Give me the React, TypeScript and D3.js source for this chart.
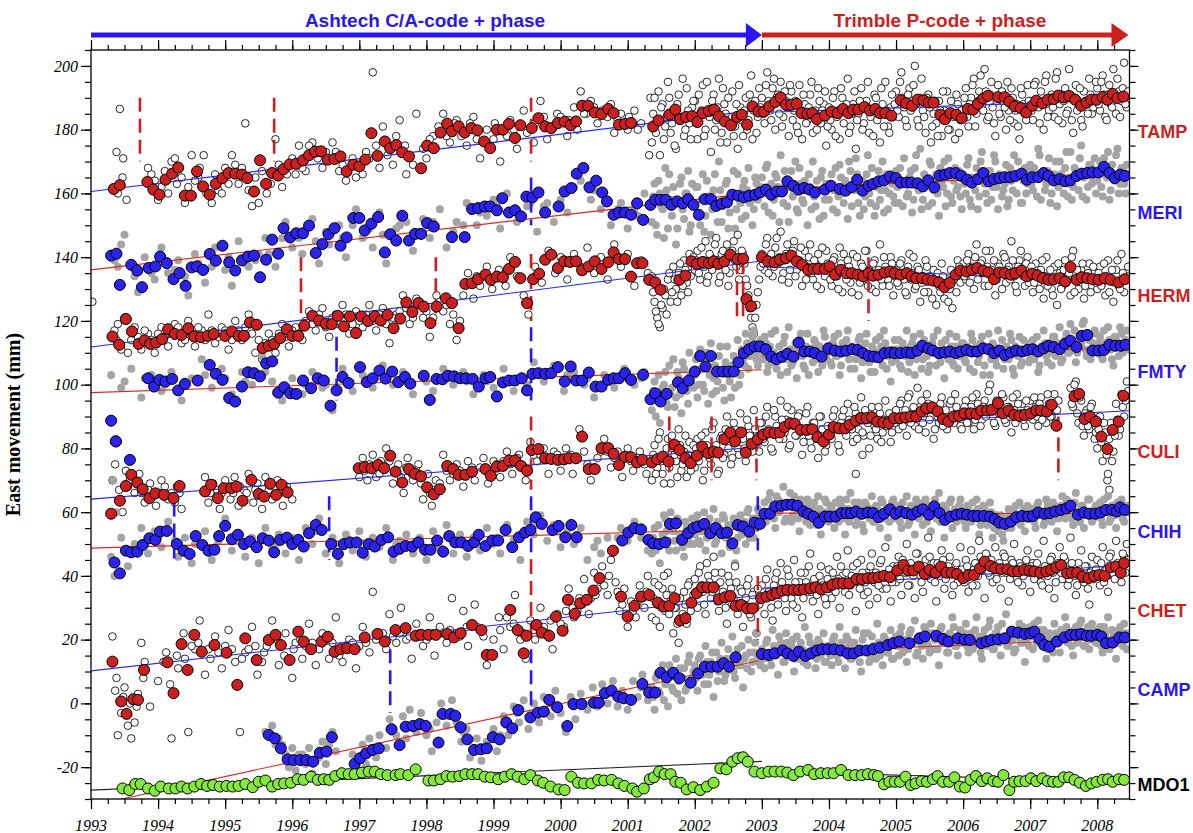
import React, { useEffect, useRef } from 'react';
import * as d3 from 'd3';

type Pt = [number, number];

// axis labels
const years = [1993, 1994, 1995, 1996, 1997, 1998, 1999, 2000, 2001, 2002, 2003, 2004, 2005, 2006, 2007, 2008];
const valueTicks = [-20, 0, 20, 40, 60, 80, 100, 120, 140, 160, 180, 200];

// dense daily clouds: two interleaved sample sets, every denseStep years from denseStart (B shifted by half a step)
const denseStart = 2001.36;
const denseStep = 0.04;

// ---------------- TAMP ----------------
const tampAvg: Pt[] = [[1993.34,161.4],[1993.43,162.6],[1993.84,163.6],[1993.93,161.2],[1994.02,159.6],[1994.11,164.3],[1994.21,166.2],[1994.30,168.1],[1994.40,159.3],[1994.49,159.3],[1994.58,166.9],[1994.67,162.2],[1994.77,159.6],[1994.86,163.0],[1994.96,164.8],[1995.05,166.4],[1995.15,166.2],[1995.25,165.9],[1995.33,164.8],[1995.43,160.6],[1995.52,170.4],[1995.61,163.0],[1995.70,166.4],[1995.79,165.6],[1995.87,167.6],[1995.96,169.1],[1996.06,169.3],[1996.16,170.4],[1996.25,172.0],[1996.34,173.1],[1996.43,173.2],[1996.53,170.6],[1996.63,170.8],[1996.72,171.6],[1996.81,166.9],[1996.91,169.0],[1997.00,168.5],[1997.09,170.6],[1997.18,178.9],[1997.27,171.8],[1997.38,176.3],[1997.46,174.2],[1997.55,175.2],[1997.64,172.9],[1997.74,171.6],[1997.92,167.9],[1998.01,175.0],[1998.11,174.2],[1998.21,179.1],[1998.31,181.9],[1998.38,179.5],[1998.48,181.0],[1998.57,179.1],[1998.67,180.5],[1998.76,179.8],[1998.86,176.3],[1998.95,174.2],[1999.05,180.0],[1999.14,180.0],[1999.23,181.8],[1999.32,177.4],[1999.40,181.4],[1999.57,180.5],[1999.67,183.6],[1999.77,181.0],[1999.86,180.5],[1999.96,182.1],[2000.06,182.5],[2000.15,181.4],[2000.23,182.6],[2000.32,187.5],[2000.41,187.5],[2000.51,185.4],[2000.61,184.9],[2000.71,186.5],[2000.79,185.2],[2000.87,181.6],[2000.96,181.8],[2001.05,182.1],[2001.38,181.0],[2001.46,182.9],[2001.62,184.7],[2001.71,186.3],[2001.78,183.3],[2001.87,184.0],[2001.96,184.2],[2002.04,182.4],[2002.12,185.2],[2002.21,185.9],[2002.29,186.3],[2002.36,184.2],[2002.45,182.6],[2002.54,181.4],[2002.63,184.0],[2002.70,184.7],[2002.78,181.6],[2002.86,187.3],[2002.95,185.7],[2003.03,185.7],[2003.11,187.3],[2003.20,188.7],[2003.28,190.1],[2003.36,187.8],[2003.44,187.8],[2003.52,188.1],[2003.59,185.2],[2003.68,185.0],[2003.75,185.2],[2003.82,183.3],[2003.94,184.4],[2004.04,185.7],[2004.13,185.2],[2004.21,186.5],[2004.29,185.2],[2004.36,186.3],[2004.44,186.3],[2004.53,187.1],[2004.61,186.0],[2004.69,186.5],[2004.76,185.2],[2004.84,185.2],[2004.93,184.4],[2005.07,189.2],[2005.15,188.3],[2005.24,187.5],[2005.32,189.4],[2005.41,189.2],[2005.49,188.5],[2005.56,188.5],[2005.66,184.7],[2005.73,183.3],[2005.81,185.2],[2005.90,184.7],[2005.98,183.6],[2006.07,186.5],[2006.15,186.3],[2006.22,188.1],[2006.30,189.8],[2006.37,190.6],[2006.52,190.2],[2006.62,190.2],[2006.69,188.8],[2006.77,187.3],[2006.86,186.8],[2006.94,185.4],[2007.03,187.5],[2007.09,189.1],[2007.18,188.3],[2007.26,189.4],[2007.35,189.6],[2007.42,190.7],[2007.50,190.1],[2007.58,190.6],[2007.67,189.4],[2007.76,187.5],[2007.84,188.5],[2007.91,189.4],[2007.99,189.4],[2008.08,190.2],[2008.15,189.4],[2008.23,191.2],[2008.30,189.9],[2008.39,190.4]];
const tampSparse: Pt[] = [[1993.38,173],[1993.43,186.5],[1993.48,171],[1993.53,158],[1993.9,166],[1994.0,158],[1994.1,167],[1994.2,170],[1994.28,163],[1994.4,157],[1994.5,172],[1994.6,165],[1994.68,172],[1994.8,157],[1994.9,161],[1995.0,168],[1995.1,172],[1995.2,163],[1995.3,182],[1995.4,156],[1995.5,157],[1995.62,160],[1995.75,177],[1995.85,162],[1996.0,171],[1996.1,175],[1996.2,167],[1996.3,176],[1996.45,168],[1996.6,176],[1996.7,167],[1996.8,164],[1996.95,165],[1997.1,173],[1997.2,198],[1997.3,168],[1997.35,181],[1997.5,169],[1997.6,183],[1997.7,166],[1997.85,185],[1998.0,171],[1998.1,178],[1998.25,185],[1998.35,176],[1998.45,183],[1998.6,175],[1998.7,184],[1998.8,171],[1999.0,177],[1999.1,170],[1999.25,183],[1999.35,174],[1999.45,186],[1999.6,176],[1999.7,189],[1999.8,177],[1999.95,185],[2000.1,178],[2000.2,187],[2000.3,192],[2000.38,185],[2000.45,189],[2000.55,182],[2000.7,184],[2000.8,179],[2000.9,185],[2001.0,180],[2001.1,186],[2001.2,182],[2001.32,172],[2001.34,190],
  [1993.4,160],[1993.47,165],[1993.85,168],[1993.95,164],[1994.05,162],[1994.15,160],[1994.25,171],[1994.35,165],[1994.45,162],[1994.55,164],[1994.62,168],[1994.72,160],[1994.85,166],[1994.95,160],[1995.05,163],[1995.15,169],[1995.25,168],[1995.35,161],[1995.45,165],[1995.55,167],[1995.68,163],[1995.8,169],[1995.92,166],[1996.05,166],[1996.15,168],[1996.25,175],[1996.38,171],[1996.5,173],[1996.65,173],[1996.75,169],[1996.9,171],[1997.05,166],[1997.15,171],[1997.25,175],[1997.42,172],[1997.55,178],[1997.68,175],[1997.8,169],[1997.95,174],[1998.05,177],[1998.18,181],[1998.3,178],[1998.42,182],[1998.52,178],[1998.65,182],[1998.75,177],[1998.9,180],[1999.02,182],[1999.2,178],[1999.3,180],[1999.5,179],[1999.62,182],[1999.75,184],[1999.9,181],[2000.0,184],[2000.12,183],[2000.25,180],[2000.35,185],[2000.5,187],[2000.62,186],[2000.75,188],[2000.85,183],[2001.02,184],[2001.15,180]];
const tampDense: (number | null)[] = [
  176, 190, 183, 172, 188, 181, 195, 179, 186, 174, 191, 184, 178, 193, 182, 187,
  189, 177, 185, 194, 180, 186, 173, 191, 183, 196, 179, 188, 176, 184, 192, 181, 174, 187, 178, 190, 183, 197, 186, 179, 193,
  190, 182, 198, 186, 193, 180, 191, 195, 184, 189, 178, 192, 186, 181, 194, 177, 188, 183, 191, 179, 186, 193, 182, 188, 175,
  187, 180, 192, 184, 177, 190, 186, 196, 181, 188, 174, 185, 193, 182, 189, 179, 186, 191, 183, 176, 188, 195, 181, 187, 184,
  192, 184, 198, 187, 181, 193, 189, 200, 183, 190, 186, 179, 191, 176, 185, 182, 189, 178, 186, 192, 180, 185, 177, 188, 183,
  186, 193, 181, 190, 196, 185, 192, 188, 199, 183, 191, 187, 178, 194, 184, 189, 180, 186, 193, 182, 188, 177, 191, 185, 194,
  189, 183, 195, 187, 192, 180, 197, 186, 191, 184, 198, 188, 182, 193, 186, 190, 179, 194, 187, 183, 192, 188, 196, 185, 190,
  193, 186, 197, 184, 191, 188, 199, 185, 192, 189, 201, 187];
const tampDenseB: (number | null)[] = [
  185, 179, 192, 187, 177, 184, 190, 182, 175, 188, 183, 196, 180, 186, 177, 189,
  182, 191, 186, 178, 195, 184, 189, 180, 187, 176, 193, 185, 190, 182, 178, 188, 194, 183, 186, 180, 191, 177, 189, 184, 187,
  185, 194, 189, 183, 196, 190, 185, 181, 192, 187, 194, 183, 189, 179, 185, 191, 182, 187, 195, 184, 180, 189, 186, 192, 181,
  183, 190, 178, 186, 193, 182, 188, 179, 185, 192, 183, 189, 180, 187, 195, 184, 178, 190, 185, 193, 181, 186, 179, 191, 188,
  186, 195, 190, 183, 191, 186, 194, 188, 181, 196, 184, 190, 187, 181, 189, 178, 186, 192, 183, 180, 189, 184, 191, 179, 186,
  190, 184, 188, 194, 181, 189, 197, 186, 192, 184, 195, 182, 189, 185, 192, 187, 195, 183, 190, 186, 181, 193, 188, 183, 189,
  186, 194, 189, 182, 188, 195, 184, 190, 187, 196, 183, 191, 189, 185, 199, 183, 190, 186, 193, 181, 189, 185, 191, 187, 195,
  188, 195, 191, 183, 194, 187, 190, 196, 184, 193, 188, 192];
const tampTrend: Pt[][] = [[[1993, 160.6], [2003, 186.3]], [[2003, 185.4], [2008.48, 189.4]]];
const tampOffsets: [number, number, number][] = [[1993.73, 170, 190], [1995.73, 170, 190], [1999.56, 170, 190]];

// ---------------- MERI ----------------
const meriAvg: Pt[] = [[1993.30,140.5],[1993.38,141.1],[1993.43,131.3],[1993.60,137.6],[1993.69,135.8],[1993.76,130.6],[1993.86,136.6],[1993.96,137.1],[1994.03,140.2],[1994.13,138.1],[1994.23,133.1],[1994.32,135.0],[1994.41,131.0],[1994.50,136.8],[1994.58,137.1],[1994.67,136.0],[1994.77,141.0],[1994.86,138.9],[1994.96,143.6],[1995.06,138.4],[1995.15,135.8],[1995.25,139.0],[1995.34,140.2],[1995.43,140.5],[1995.52,133.7],[1995.61,139.2],[1995.70,145.5],[1995.79,141.1],[1995.87,149.1],[1995.97,146.2],[1996.06,147.5],[1996.16,147.5],[1996.25,149.9],[1996.35,141.3],[1996.45,144.1],[1996.54,147.2],[1996.63,149.1],[1996.72,143.6],[1996.81,146.2],[1996.91,152.3],[1997.00,152.3],[1997.08,148.4],[1997.18,150.5],[1997.28,152.6],[1997.38,141.5],[1997.46,147.2],[1997.55,145.2],[1997.64,153.0],[1997.74,145.2],[1997.83,147.3],[1997.92,147.3],[1998.01,150.7],[1998.11,149.6],[1998.38,146.3],[1998.57,146.3],[1998.68,155.1],[1998.77,155.4],[1998.87,155.9],[1998.95,155.9],[1999.05,154.7],[1999.13,158.5],[1999.23,154.0],[1999.32,154.7],[1999.41,152.8],[1999.49,159.0],[1999.58,158.8],[1999.67,160.3],[1999.77,154.0],[1999.97,155.9],[2000.06,160.6],[2000.16,161.7],[2000.24,166.2],[2000.34,168.0],[2000.43,161.9],[2000.53,164.0],[2000.62,160.3],[2000.69,157.5],[2000.79,153.3],[2000.87,154.0],[2000.96,154.0],[2001.05,153.3],[2001.14,156.9],[2001.23,151.7],[2001.34,156.4],[2001.41,158.0],[2001.49,158.0],[2001.57,158.0],[2001.65,156.4],[2001.74,157.5],[2001.82,156.9],[2001.90,158.2],[2001.98,156.4],[2002.06,153.3],[2002.15,158.2],[2002.24,158.2],[2002.32,156.1],[2002.40,156.8],[2002.48,157.2],[2002.56,159.6],[2002.65,159.3],[2002.73,158.8],[2002.81,159.3],[2002.90,159.6],[2002.97,160.3],[2003.06,161.2],[2003.14,159.6],[2003.22,160.6],[2003.30,160.6],[2003.38,163.8],[2003.47,162.4],[2003.55,161.2],[2003.63,161.7],[2003.71,161.2],[2003.79,160.3],[2003.94,161.2],[2004.03,162.4],[2004.16,161.4],[2004.25,160.9],[2004.34,162.0],[2004.42,164.3],[2004.50,160.9],[2004.59,162.4],[2004.66,163.0],[2004.74,163.8],[2004.82,164.1],[2004.91,165.3],[2005.00,164.8],[2005.07,163.4],[2005.16,163.4],[2005.23,163.4],[2005.32,163.2],[2005.40,162.2],[2005.48,164.1],[2005.57,161.9],[2005.65,165.6],[2005.73,165.9],[2005.80,166.4],[2005.89,166.4],[2005.97,165.5],[2006.06,164.3],[2006.13,163.4],[2006.22,164.5],[2006.30,166.4],[2006.38,163.8],[2006.46,164.5],[2006.54,164.8],[2006.62,165.1],[2006.70,165.1],[2006.78,165.5],[2006.87,166.2],[2006.95,164.3],[2007.03,165.1],[2007.12,165.1],[2007.20,166.4],[2007.27,165.5],[2007.35,164.1],[2007.44,164.5],[2007.52,163.8],[2007.60,164.1],[2007.69,165.5],[2007.77,166.2],[2007.85,166.4],[2007.93,166.6],[2008.02,166.6],[2008.10,168.3],[2008.18,166.4],[2008.26,164.8],[2008.34,165.9],[2008.41,165.5]];
const meriSparse: Pt[] = [[1993.35,139],[1993.45,144],[1993.5,147],[1993.7,129],[1993.8,140],[1993.95,133],[1994.05,143],[1994.15,135],[1994.3,139],[1994.45,128],[1994.55,141],[1994.7,132],[1994.85,143],[1995.0,136],[1995.1,131],[1995.2,145],[1995.35,137],[1995.5,141],[1995.6,146],[1995.75,137],[1995.9,151],[1996.0,143],[1996.15,141],[1996.3,152],[1996.4,138],[1996.55,144],[1996.7,150],[1996.8,140],[1996.95,155],[1997.05,146],[1997.2,143],[1997.3,154],[1997.4,138],[1997.55,149],[1997.7,151],[1997.8,142],[1997.95,152],[1998.05,146],[1998.2,155],[1998.3,143],[1998.45,151],[1998.6,157],[1998.75,150],[1998.9,153],[1999.0,158],[1999.1,149],[1999.2,160],[1999.35,151],[1999.5,156],[1999.65,148],[1999.8,157],[1999.9,151],[2000.0,158],[2000.1,154],[2000.3,164],[2000.45,158],[2000.6,155],[2000.75,150],[2000.9,157],[2001.0,149],[2001.15,153],[2001.25,160],
  [1993.4,137],[1993.65,134],[1993.9,135],[1994.1,139],[1994.25,136],[1994.4,134],[1994.6,138],[1994.8,137],[1995.05,140],[1995.3,138],[1995.45,139],[1995.65,141],[1995.85,146],[1996.1,146],[1996.35,145],[1996.5,148],[1996.75,146],[1996.9,150],[1997.15,149],[1997.35,147],[1997.6,150],[1997.9,148],[1998.1,151],[1998.4,148],[1998.55,150],[1998.8,154],[1999.05,156],[1999.3,155],[1999.55,157],[1999.75,156],[2000.2,162],[2000.5,161],[2000.85,155],[2001.1,155]];
const meriDense: (number | null)[] = [
  151, 163, 147, 160, 155, 168, 149, 158, 162, 144, 157, 165, 152, 160, 148, 163,
  156, 162, 150, 166, 153, 159, 147, 161, 157, 170, 151, 158, 164, 154, 160, 149, 166, 157, 162, 153, 168, 158, 155, 163, 160,
  165, 156, 169, 160, 153, 166, 162, 172, 157, 163, 151, 167, 160, 155, 168, 158, 164, 150, 162, 170, 156, 161, 165, 153, 163,
  158, 166, 161, 154, 169, 160, 164, 152, 167, 162, 171, 157, 163, 155, 166, 160, 168, 153, 162, 158, 170, 161, 155, 165, 159,
  167, 157, 163, 171, 159, 165, 154, 168, 162, 174, 158, 164, 156, 169, 161, 166, 153, 163, 170, 160, 165, 157, 168, 162, 159,
  166, 160, 171, 156, 164, 168, 159, 173, 163, 157, 167, 162, 170, 155, 165, 161, 169, 158, 164, 172, 160, 166, 157, 168, 163,
  169, 161, 165, 174, 158, 167, 163, 171, 160, 166, 156, 170, 164, 168, 159, 173, 162, 167, 161, 175, 165, 158, 169, 163, 171,
  164, 170, 159, 167, 173, 161, 166, 172, 160, 168, 163, 169];
const meriDenseB: (number | null)[] = [
  159, 150, 164, 156, 146, 161, 166, 153, 158, 149, 163, 155, 160, 167, 150, 157,
  162, 153, 158, 148, 164, 159, 155, 166, 151, 161, 156, 163, 149, 160, 167, 155, 159, 152, 164, 161, 157, 150, 165, 158, 162,
  160, 168, 154, 163, 158, 165, 151, 161, 167, 156, 162, 159, 170, 154, 163, 157, 161, 166, 155, 159, 164, 152, 167, 158, 162,
  163, 155, 168, 159, 165, 157, 162, 170, 156, 161, 166, 153, 164, 159, 172, 157, 163, 156, 167, 161, 154, 166, 160, 163, 157,
  162, 168, 156, 164, 160, 167, 158, 172, 161, 155, 166, 163, 170, 157, 164, 160, 168, 162, 156, 171, 159, 164, 161, 167, 155,
  163, 169, 158, 165, 161, 155, 170, 164, 160, 167, 158, 172, 162, 166, 159, 163, 156, 168, 161, 165, 170, 157, 164, 160, 167,
  163, 168, 159, 172, 165, 161, 167, 157, 164, 170, 162, 166, 160, 173, 163, 158, 168, 165, 171, 159, 166, 162, 169, 164, 160,
  167, 162, 171, 165, 158, 169, 164, 174, 163, 167, 160, 166];
const meriTrend: Pt[][] = [[[1993, 136.0], [2003, 160.5]], [[2003, 161.2], [2008.48, 166.7]]];
const meriOffsets: [number, number, number][] = [[1999.56, 150, 165]];

// ---------------- HERM ----------------
const hermAvg: Pt[] = [[1993.32,115.1],[1993.42,112.5],[1993.52,120.6],[1993.61,116.7],[1993.71,112.8],[1993.80,113.9],[1993.88,112.8],[1993.97,113.2],[1994.06,114.3],[1994.15,117.4],[1994.25,115.9],[1994.35,115.6],[1994.45,117.7],[1994.54,115.1],[1994.64,114.9],[1994.74,115.3],[1994.83,115.9],[1995.00,115.3],[1995.10,116.7],[1995.20,115.3],[1995.28,115.3],[1995.37,119.5],[1995.47,118.8],[1995.56,111.5],[1995.65,112.2],[1995.73,112.8],[1995.82,114.6],[1995.92,117.4],[1996.00,115.3],[1996.09,115.3],[1996.18,118.5],[1996.30,121.6],[1996.40,120.1],[1996.50,119.1],[1996.59,119.0],[1996.68,121.6],[1996.77,118.3],[1996.86,121.4],[1996.95,116.2],[1997.03,121.4],[1997.13,120.0],[1997.23,121.4],[1997.32,120.1],[1997.42,121.9],[1997.51,117.7],[1997.61,120.7],[1997.70,125.8],[1997.79,122.8],[1997.88,125.6],[1997.96,124.5],[1998.06,119.3],[1998.15,124.5],[1998.29,127.1],[1998.38,125.6],[1998.48,117.7],[1998.58,131.6],[1998.68,131.8],[1998.77,133.1],[1998.88,134.5],[1998.96,132.9],[1999.05,133.9],[1999.14,133.7],[1999.23,136.3],[1999.32,138.5],[1999.40,133.4],[1999.50,125.6],[1999.59,133.1],[1999.68,134.8],[1999.77,139.2],[1999.86,140.8],[1999.96,136.6],[2000.05,138.7],[2000.14,138.5],[2000.23,138.7],[2000.32,135.9],[2000.42,137.1],[2000.51,138.7],[2000.61,136.3],[2000.71,138.4],[2000.79,141.5],[2000.87,139.4],[2000.96,139.4],[2001.05,133.9],[2001.14,138.1],[2001.22,138.1],[2001.32,132.9],[2001.41,132.1],[2001.49,129.8],[2001.77,132.9],[2001.86,134.2],[2001.95,138.7],[2002.03,137.9],[2002.12,138.5],[2002.21,138.1],[2002.28,138.7],[2002.35,137.9],[2002.44,138.7],[2002.53,140.8],[2002.64,139.4],[2002.72,139.5],[2002.77,126.8],[2002.84,124.6],[2003.00,140.0],[2003.09,138.7],[2003.19,138.4],[2003.27,139.2],[2003.36,139.7],[2003.44,140.5],[2003.52,138.7],[2003.60,137.6],[2003.69,136.0],[2003.77,136.3],[2003.84,136.3],[2003.94,136.3],[2004.01,137.1],[2004.09,134.5],[2004.18,136.0],[2004.26,135.0],[2004.34,135.0],[2004.43,134.5],[2004.51,134.0],[2004.59,135.0],[2004.66,134.2],[2004.74,134.5],[2004.83,135.2],[2004.91,135.5],[2004.98,135.0],[2005.07,134.5],[2005.16,135.0],[2005.23,134.0],[2005.30,133.4],[2005.39,133.4],[2005.47,132.9],[2005.55,132.7],[2005.64,132.1],[2005.72,130.6],[2005.80,131.9],[2005.89,134.5],[2005.96,135.8],[2006.05,135.5],[2006.13,136.0],[2006.21,136.6],[2006.30,135.8],[2006.38,135.2],[2006.46,133.1],[2006.54,135.2],[2006.62,135.0],[2006.71,134.5],[2006.78,135.0],[2006.87,135.8],[2006.95,134.0],[2007.03,134.8],[2007.11,134.2],[2007.19,133.4],[2007.27,132.9],[2007.35,133.1],[2007.44,133.4],[2007.52,132.4],[2007.60,136.9],[2007.69,132.9],[2007.77,133.7],[2007.85,133.4],[2007.93,133.1],[2008.02,132.9],[2008.11,133.4],[2008.20,132.9],[2008.32,132.1],[2008.41,133.1]];
const hermSparse: Pt[] = [[1993.02,126],[1993.35,117],[1993.4,119],[1993.5,121],[1993.55,110],[1993.65,118],[1993.75,111],[1993.85,116],[1993.95,110],[1994.05,118],[1994.15,112],[1994.25,119],[1994.35,113],[1994.45,120],[1994.55,112],[1994.65,117],[1994.75,122],[1994.85,113],[1994.95,118],[1995.05,111],[1995.15,120],[1995.25,114],[1995.35,122],[1995.45,110],[1995.55,108],[1995.65,116],[1995.75,110],[1995.85,119],[1995.95,112],[1996.05,118],[1996.15,114],[1996.25,123],[1996.35,117],[1996.45,124],[1996.55,115],[1996.65,122],[1996.75,125],[1996.85,116],[1996.95,123],[1997.05,118],[1997.15,125],[1997.25,117],[1997.35,124],[1997.45,113],[1997.55,122],[1997.65,128],[1997.75,119],[1997.85,127],[1997.95,121],[1998.05,115],[1998.15,128],[1998.25,123],[1998.35,119],[1998.45,114],[1998.55,128],[1998.62,135],[1998.7,127],[1998.8,131],[1998.9,137],[1998.98,130],[1999.08,136],[1999.18,131],[1999.25,140],[1999.35,134],[1999.45,128],[1999.52,122],[1999.62,137],[1999.72,132],[1999.82,142],[1999.92,135],[2000.0,140],[2000.1,133],[2000.2,141],[2000.3,137],[2000.4,143],[2000.5,135],[2000.6,140],[2000.7,133],[2000.8,144],[2000.9,137],[2001.0,141],[2001.1,131],[2001.2,139],[2001.3,135],
  [1993.38,114],[1993.45,111],[1993.6,114],[1993.7,115],[1993.8,117],[1993.9,114],[1994.0,116],[1994.1,115],[1994.2,116],[1994.3,118],[1994.4,114],[1994.5,116],[1994.6,118],[1994.7,114],[1994.8,117],[1994.9,115],[1995.0,117],[1995.1,114],[1995.2,117],[1995.3,118],[1995.4,116],[1995.5,114],[1995.6,113],[1995.7,114],[1995.8,116],[1995.9,115],[1996.0,117],[1996.1,116],[1996.2,120],[1996.3,119],[1996.4,122],[1996.5,118],[1996.6,121],[1996.7,119],[1996.8,122],[1996.9,119],[1997.0,120],[1997.1,122],[1997.2,120],[1997.3,122],[1997.4,119],[1997.5,121],[1997.6,123],[1997.7,124],[1997.8,121],[1997.9,126],[1998.0,123],[1998.1,121],[1998.2,126],[1998.3,125],[1998.4,122],[1998.5,120],[1998.6,132],[1998.75,134]];
const hermDense: (number | null)[] = [
  134, 126, 121, 118, 124, 128, 133, 126, 137, 130, 135, 128, 139, 132, 141, 135,
  136, 142, 133, 139, 145, 134, 140, 137, 146, 132, 141, 138, 144, 135, 142, 139, 147, 136, 141, 133, 128, 121, 116, 125, 133,
  141, 136, 146, 139, 134, 143, 138, 148, 135, 141, 132, 140, 145, 136, 139, 131, 142, 137, 144, 133, 138, 141, 130, 136, 142,
  137, 131, 140, 134, 143, 129, 136, 139, 132, 141, 135, 128, 138, 133, 142, 136, 130, 139, 134, 144, 131, 137, 133, 140, 128,
  136, 131, 139, 133, 128, 141, 135, 130, 137, 126, 134, 139, 129, 133, 136, 125, 131, 138, 127, 133, 130, 124, 135, 139, 132,
  138, 133, 141, 136, 130, 144, 135, 139, 131, 137, 142, 134, 128, 138, 135, 141, 132, 137, 145, 134, 129, 139, 136, 131, 140,
  134, 129, 138, 132, 136, 127, 140, 133, 130, 137, 125, 135, 131, 139, 134, 128, 142, 133, 130, 136, 127, 134, 138, 131, 135,
  130, 137, 132, 128, 139, 133, 126, 136, 131, 141, 129, 134];
const hermDenseB: (number | null)[] = [
  129, 123, 119, 125, 130, 122, 135, 129, 133, 126, 138, 131, 136, 129, 134, 140,
  139, 135, 143, 137, 132, 141, 136, 144, 139, 134, 142, 136, 131, 140, 145, 137, 133, 142, 138, 131, 124, 118, 121, 129, 137,
  138, 144, 135, 141, 137, 146, 140, 133, 139, 144, 136, 142, 134, 138, 143, 137, 133, 140, 135, 139, 131, 137, 143, 134, 138,
  133, 139, 136, 130, 138, 141, 133, 137, 129, 135, 140, 132, 137, 142, 131, 135, 138, 129, 136, 133, 140, 135, 131, 138, 134,
  132, 138, 135, 129, 137, 133, 140, 131, 136, 132, 129, 137, 134, 127, 132, 135, 129, 134, 131, 126, 136, 133, 129, 137, 135,
  134, 139, 132, 137, 140, 133, 138, 135, 142, 131, 136, 139, 133, 137, 130, 140, 136, 133, 139, 131, 137, 142, 134, 138, 132,
  137, 132, 135, 130, 139, 134, 131, 136, 128, 133, 138, 130, 136, 132, 135, 140, 129, 136, 133, 138, 131, 135, 129, 137, 132,
  135, 131, 138, 134, 129, 136, 132, 139, 130, 135, 133, 137];
const hermTrend: Pt[][] = [[[1993, 111.8], [2003, 138.8]], [[2003, 137.0], [2008.48, 132.4]]];
const hermOffsets: [number, number, number][] = [[1996.13, 120, 140], [1998.14, 120, 140], [1999.56, 120, 141], [2002.63, 120, 139], [2002.72, 120, 139], [2004.59, 120, 140]];

// ---------------- FMTY ----------------
const fmtyAvg: Pt[] = [[1993.85,102.0],[1993.94,99.4],[1994.02,101.5],[1994.11,101.0],[1994.21,101.8],[1994.30,98.2],[1994.40,100.2],[1994.59,101.3],[1994.77,106.2],[1994.86,103.4],[1994.96,101.5],[1995.06,95.8],[1995.15,94.7],[1995.25,99.4],[1995.34,103.9],[1995.43,103.6],[1995.52,102.6],[1995.61,106.7],[1995.70,107.3],[1995.79,97.5],[1995.88,99.2],[1995.97,97.3],[1996.06,97.1],[1996.16,101.3],[1996.28,98.9],[1996.38,102.0],[1996.47,101.3],[1996.57,93.4],[1996.66,98.2],[1996.75,102.4],[1996.84,100.5],[1997.01,105.5],[1997.11,100.8],[1997.20,102.0],[1997.30,104.4],[1997.39,101.9],[1997.49,104.1],[1997.58,100.8],[1997.68,102.4],[1997.76,100.3],[1997.96,102.8],[1998.05,95.2],[1998.15,101.8],[1998.24,101.7],[1998.32,102.8],[1998.41,102.6],[1998.50,102.0],[1998.59,102.0],[1998.69,101.8],[1998.78,99.4],[1998.88,102.0],[1998.95,102.4],[1999.05,96.3],[1999.14,100.7],[1999.23,101.3],[1999.32,101.3],[1999.42,102.0],[1999.50,98.2],[1999.58,103.4],[1999.67,103.6],[1999.77,103.4],[1999.86,103.6],[1999.96,105.5],[2000.06,101.0],[2000.15,105.7],[2000.23,101.3],[2000.32,101.3],[2000.42,103.8],[2000.52,99.4],[2000.61,99.4],[2000.71,101.5],[2000.79,102.0],[2000.87,102.0],[2000.96,103.6],[2001.05,101.5],[2001.23,103.1],[2001.34,95.4],[2001.41,97.3],[2001.49,94.7],[2001.58,97.1],[2001.75,100.7],[2001.82,98.9],[2001.91,101.3],[2002.00,104.1],[2002.08,109.0],[2002.16,105.7],[2002.24,109.0],[2002.33,104.1],[2002.42,104.1],[2002.50,104.1],[2002.58,104.1],[2002.65,107.0],[2002.73,109.9],[2002.81,111.1],[2002.89,112.0],[2002.97,112.0],[2003.06,111.1],[2003.14,108.8],[2003.22,108.0],[2003.30,108.8],[2003.38,109.7],[2003.47,108.8],[2003.55,113.2],[2003.63,110.4],[2003.72,110.4],[2003.79,109.9],[2003.89,108.8],[2003.99,111.4],[2004.09,110.7],[2004.18,110.4],[2004.26,110.7],[2004.35,111.1],[2004.43,110.9],[2004.51,109.9],[2004.59,109.0],[2004.67,108.8],[2004.74,108.6],[2004.83,109.9],[2004.91,110.1],[2004.98,109.9],[2005.07,109.9],[2005.16,110.1],[2005.23,109.9],[2005.32,110.7],[2005.39,112.2],[2005.48,111.4],[2005.55,110.7],[2005.64,109.9],[2005.72,110.1],[2005.80,110.4],[2005.89,109.9],[2005.96,110.4],[2006.05,110.9],[2006.13,110.4],[2006.21,110.4],[2006.30,111.4],[2006.38,111.1],[2006.46,109.9],[2006.54,110.7],[2006.62,109.3],[2006.71,110.1],[2006.79,110.7],[2006.88,110.4],[2006.96,110.9],[2007.04,111.1],[2007.12,110.4],[2007.20,111.4],[2007.27,112.2],[2007.35,111.8],[2007.44,111.1],[2007.52,112.8],[2007.60,113.8],[2007.69,111.8],[2007.77,115.3],[2007.85,115.6],[2007.93,110.7],[2008.02,110.7],[2008.10,110.9],[2008.18,112.5],[2008.27,112.2],[2008.35,112.2],[2008.42,112.5]];
const fmtySparse: Pt[] = [[1993.3,103],[1993.45,99],[1993.6,105],[1993.75,96],[1993.9,103],[1994.05,98],[1994.2,104],[1994.35,95],[1994.5,102],[1994.65,108],[1994.8,99],[1994.95,105],[1995.1,97],[1995.25,104],[1995.4,100],[1995.55,109],[1995.7,101],[1995.85,95],[1996.0,102],[1996.15,97],[1996.3,104],[1996.45,99],[1996.6,92],[1996.75,105],[1996.9,98],[1997.05,103],[1997.2,99],[1997.35,106],[1997.5,100],[1997.65,104],[1997.8,97],[1997.95,103],[1998.1,98],[1998.25,105],[1998.4,100],[1998.55,104],[1998.7,97],[1998.85,103],[1999.0,99],[1999.15,105],[1999.3,98],[1999.45,102],[1999.6,107],[1999.75,101],[1999.9,106],[2000.05,98],[2000.2,104],[2000.35,100],[2000.5,96],[2000.65,103],[2000.8,99],[2000.95,105],[2001.1,100],[2001.25,104],
  [1993.5,101],[1993.8,102],[1994.1,100],[1994.4,101],[1994.7,103],[1995.0,102],[1995.3,101],[1995.6,104],[1995.9,99],[1996.2,100],[1996.5,100],[1996.8,101],[1997.1,102],[1997.4,102],[1997.7,101],[1998.0,101],[1998.3,102],[1998.6,101],[1998.9,101],[1999.2,101],[1999.5,100],[1999.8,103],[2000.1,103],[2000.4,102],[2000.7,101],[2001.0,102],[2001.2,102]];
const fmtyDense: (number | null)[] = [
  92, 101, 95, 88, 99, 104, 93, 97, 108, 96, 102, 91, 105, 98, 110, 100,
  103, 96, 111, 100, 107, 94, 113, 102, 98, 109, 104, 95, 112, 101, 106, 99, 114, 103, 108, 116, 105, 111, 117, 108, 113,
  110, 115, 104, 112, 107, 117, 109, 103, 113, 108, 118, 106, 111, 102, 114, 109, 105, 116, 110, 107, 113, 104, 111, 117, 108,
  112, 106, 115, 109, 103, 113, 110, 117, 105, 111, 108, 114, 102, 109, 116, 107, 112, 104, 110, 115, 106, 113, 109, 101, 111,
  108, 114, 105, 111, 117, 107, 113, 103, 110, 116, 108, 112, 104, 111, 115, 106, 109, 113, 102, 110, 116, 107, 112, 105, 111,
  113, 107, 110, 116, 104, 112, 109, 115, 106, 111, 103, 113, 108, 117, 110, 105, 112, 108, 114, 103, 111, 115, 107, 110, 113,
  108, 114, 110, 104, 112, 117, 109, 113, 106, 115, 111, 118, 108, 114, 110, 119, 112, 107, 116, 113, 120, 109, 114, 111, 117,
  110, 115, 108, 113, 118, 111, 106, 114, 109, 116, 112, 117];
const fmtyDenseB: (number | null)[] = [
  98, 90, 103, 96, 100, 94, 106, 99, 93, 104, 97, 107, 101, 94, 103, 99,
  108, 100, 105, 98, 110, 103, 97, 106, 101, 112, 99, 107, 103, 96, 109, 104, 100, 111, 106, 113, 109, 115, 110, 106, 114,
  108, 113, 106, 116, 110, 105, 112, 108, 115, 104, 111, 107, 113, 109, 116, 106, 112, 103, 110, 114, 108, 112, 106, 115, 110,
  107, 113, 109, 116, 106, 111, 114, 108, 112, 105, 110, 115, 107, 113, 109, 104, 111, 114, 108, 112, 117, 105, 110, 107, 114,
  111, 106, 113, 109, 104, 112, 115, 108, 111, 105, 114, 109, 106, 113, 110, 117, 107, 111, 114, 108, 112, 106, 115, 109, 113,
  108, 112, 105, 114, 110, 107, 113, 103, 111, 116, 108, 112, 106, 111, 114, 108, 110, 116, 105, 112, 109, 106, 114, 111, 107,
  112, 108, 115, 106, 111, 113, 107, 110, 115, 109, 113, 107, 112, 116, 110, 113, 117, 110, 114, 119, 111, 115, 108, 113, 116,
  113, 109, 117, 111, 114, 108, 115, 112, 118, 110, 114, 111];
const fmtyTrend: Pt[][] = [[[1993, 97.5], [2003, 104.7]], [[2003, 109.0], [2008.48, 111.5]]];
const fmtyOffsets: [number, number, number][] = [[1996.66, 95, 115], [1999.56, 95, 118]];

// ---------------- CULI ----------------
const culiAvg: Pt[] = [[1993.30,59.5],[1993.37,82.2],[1993.43,63.6],[1993.52,68.2],[1993.60,71.7],[1993.69,69.3],[1993.77,67.2],[1993.87,64.4],[1993.96,65.9],[1994.09,65.4],[1994.23,64.4],[1994.32,68.2],[1994.70,66.5],[1994.79,68.6],[1994.89,64.4],[1994.98,67.5],[1995.09,67.5],[1995.17,68.0],[1995.26,63.6],[1995.39,70.1],[1995.50,65.7],[1995.58,64.9],[1995.67,68.9],[1995.76,65.4],[1995.84,68.6],[1995.93,66.2],[1996.99,73.8],[1997.08,74.1],[1997.18,73.8],[1997.28,74.8],[1997.37,73.8],[1997.46,77.7],[1997.54,72.7],[1997.64,69.3],[1997.74,73.5],[1997.83,72.0],[1997.92,71.2],[1998.01,67.8],[1998.11,65.6],[1998.20,67.2],[1998.31,74.5],[1998.40,73.5],[1998.48,71.7],[1998.58,71.7],[1998.68,72.7],[1998.88,73.5],[1998.96,71.4],[1999.05,74.3],[1999.14,74.5],[1999.23,76.2],[1999.32,76.2],[1999.41,74.5],[1999.50,73.0],[1999.57,79.5],[1999.67,79.8],[1999.77,76.9],[1999.86,76.7],[1999.96,76.4],[2000.05,76.6],[2000.13,76.9],[2000.23,76.9],[2000.32,83.7],[2000.42,73.5],[2000.51,73.5],[2000.61,80.1],[2000.71,80.1],[2000.79,78.3],[2000.87,74.8],[2000.96,77.4],[2001.05,77.2],[2001.14,75.6],[2001.22,76.4],[2001.36,75.6],[2001.44,76.6],[2001.52,77.4],[2001.61,75.9],[2001.70,81.1],[2001.77,79.5],[2001.86,76.9],[2001.94,75.4],[2002.03,77.7],[2002.11,80.6],[2002.20,78.5],[2002.28,79.0],[2002.35,78.7],[2002.44,82.9],[2002.53,85.0],[2002.60,82.2],[2002.69,85.0],[2002.76,78.7],[2002.85,81.4],[2002.94,82.9],[2003.02,84.3],[2003.10,85.0],[2003.19,84.8],[2003.27,85.0],[2003.34,86.7],[2003.42,87.9],[2003.49,87.7],[2003.58,85.8],[2003.67,85.8],[2003.75,86.0],[2003.83,83.5],[2003.92,82.2],[2004.00,84.3],[2004.07,86.7],[2004.15,86.3],[2004.24,86.3],[2004.31,87.4],[2004.40,88.7],[2004.48,89.5],[2004.56,89.5],[2004.64,89.8],[2004.72,88.4],[2004.81,88.1],[2004.89,87.9],[2004.97,89.5],[2005.06,89.5],[2005.14,89.7],[2005.22,90.0],[2005.30,90.0],[2005.38,91.6],[2005.45,92.6],[2005.54,92.9],[2005.62,91.6],[2005.70,89.2],[2005.78,88.4],[2005.86,90.0],[2005.94,90.2],[2006.02,91.0],[2006.11,91.0],[2006.20,90.8],[2006.27,91.9],[2006.36,91.9],[2006.43,92.1],[2006.52,94.2],[2006.59,91.0],[2006.68,91.9],[2006.76,90.5],[2006.84,90.2],[2006.92,90.5],[2007.01,91.0],[2007.09,91.9],[2007.16,91.9],[2007.25,91.6],[2007.32,93.7],[2007.39,87.1],[2007.66,96.3],[2007.73,97.1],[2007.81,89.2],[2007.89,90.0],[2007.98,88.4],[2008.06,83.7],[2008.15,79.8],[2008.23,85.8],[2008.32,88.4],[2008.39,96.5]];
const culiSparse: Pt[] = [[1993.32,70],[1993.36,75],[1993.42,67],[1993.47,60],[1993.52,73],[1993.58,70],[1993.65,66],[1993.72,72],[1993.8,63],[1993.88,69],[1993.97,62],[1994.05,70],[1994.15,64],[1994.28,68],[1994.35,61],[1994.7,71],[1994.75,63],[1994.82,69],[1994.92,61],[1995.0,70],[1995.08,64],[1995.14,71],[1995.2,62],[1995.28,67],[1995.35,72],[1995.42,63],[1995.48,69],[1995.55,61],[1995.6,71],[1995.7,64],[1995.78,70],[1995.86,62],[1995.92,68],[1996.0,64],[1997.0,71],[1997.05,77],[1997.12,70],[1997.2,78],[1997.25,71],[1997.32,76],[1997.4,80],[1997.5,69],[1997.58,75],[1997.66,66],[1997.72,77],[1997.8,70],[1997.88,75],[1997.95,64],[1998.02,72],[1998.08,62],[1998.14,70],[1998.25,78],[1998.35,70],[1998.45,75],[1998.55,68],[1998.62,76],[1998.72,70],[1998.85,77],[1998.92,69],[1999.0,76],[1999.1,71],[1999.2,79],[1999.28,72],[1999.38,78],[1999.48,70],[1999.55,82],[1999.65,76],[1999.75,80],[1999.82,72],[1999.9,79],[2000.0,73],[2000.08,80],[2000.18,72],[2000.28,86],[2000.35,79],[2000.45,70],[2000.55,77],[2000.65,83],[2000.75,74],[2000.85,79],[2000.92,71],[2001.0,80],[2001.08,73],[2001.18,79],[2001.28,72],[2004.4,72],[2004.5,78],[2008.15,70],[2008.18,67],
  [1993.55,68],[1993.62,72],[1993.75,66],[1993.85,67],[1993.92,65],[1994.02,66],[1994.1,68],[1994.2,66],[1994.25,63],[1994.32,66],[1994.78,66],[1994.88,67],[1994.95,66],[1995.05,68],[1995.12,66],[1995.22,68],[1995.32,66],[1995.45,67],[1995.52,66],[1995.65,67],[1995.73,68],[1995.82,66],[1995.9,67],[1997.08,73],[1997.15,75],[1997.3,72],[1997.38,74],[1997.45,76],[1997.55,73],[1997.62,71],[1997.7,74],[1997.78,72],[1997.85,73],[1997.92,69],[1998.05,66],[1998.12,67],[1998.2,69],[1998.3,73],[1998.4,72],[1998.5,73],[1998.6,72],[1998.68,74],[1998.8,74],[1998.95,73],[1999.05,75],[1999.15,76],[1999.25,75],[1999.35,77],[1999.45,74],[1999.6,78],[1999.7,78],[1999.85,77],[1999.95,78],[2000.05,76],[2000.15,78],[2000.25,77],[2000.4,75],[2000.5,74],[2000.6,79],[2000.7,79],[2000.8,77],[2000.9,76],[2001.05,76],[2001.15,77],[2001.25,75]];
const culiDense: (number | null)[] = [
  70, 81, 74, 85, 72, 78, 83, 69, 80, 76, 86, 73, 79, 71, 82, 77,
  74, 83, 78, 70, 85, 79, 75, 88, 81, 73, 84, 78, 90, 82, 77, 86, 80, 91, 83, 76, 87, 81, 92, 84, 79,
  88, 82, 93, 85, 79, 90, 86, 95, 83, 89, 80, 92, 87, 84, 91, 78, 86, 93, 82, 88, 85, 77, 90, 84, 81,
  87, 83, 92, 86, 79, 90, 85, 94, 88, 82, 91, 86, 96, 84, 89, 80, 93, 87, 83, 91, 85, 95, 88, 82, 90,
  92, 86, 95, 89, 84, 97, 91, 87, 99, 93, 88, 85, 94, 90, 83, 92, 88, 96, 91, 86, 94, 89, 97, 92, 87,
  90, 95, 88, 93, 86, 97, 91, 89, 95, 92, 100, 90, 87, 94, 91, 96, 88, 93, 85, 92, 97, 90, 94, 87, 92,
  95, 89, 93, 87, 96, 91, 88, 94, 90, 97, 92, null, null, null, null, 99, 93, 101, 88, 95, 84, 92, 86, 94, 83,
  80, 90, 76, 85, 72, 88, 79, 94, 84, 97, 90, 101];
const culiDenseB: (number | null)[] = [
  78, 72, 83, 76, 69, 80, 74, 84, 78, 71, 81, 75, 84, 78, 73, 81,
  80, 76, 84, 73, 81, 77, 86, 79, 72, 83, 77, 86, 80, 75, 88, 83, 78, 85, 80, 89, 84, 79, 86, 82, 88,
  83, 90, 86, 80, 92, 87, 83, 89, 85, 93, 81, 88, 84, 90, 86, 82, 91, 84, 80, 88, 83, 90, 86, 79, 87,
  84, 90, 86, 81, 88, 92, 84, 89, 86, 93, 83, 90, 85, 92, 88, 84, 90, 86, 93, 82, 89, 87, 91, 85, 88,
  89, 94, 87, 92, 96, 88, 93, 90, 86, 95, 91, 97, 89, 92, 86, 90, 94, 87, 92, 89, 95, 88, 93, 90, 86,
  93, 88, 91, 96, 89, 94, 87, 93, 90, 98, 92, 88, 95, 91, 97, 89, 93, 90, 96, 88, 94, 91, 89, 95, 90,
  91, 96, 90, 94, 89, 92, 97, 90, 94, 88, 95, null, null, null, null, 94, 100, 91, 96, 87, 91, 87, 93, 89, 85,
  86, 82, 88, 78, 83, 76, 84, 89, 86, 93, 95, 98];
const culiTrend: Pt[][] = [[[1993, 64.1], [2003, 80.5]], [[2003, 86.1], [2008.48, 91.8]]];
const culiOffsets: [number, number, number][] = [[1999.56, 67, 90], [2001.62, 70, 90], [2002.25, 70, 90], [2002.92, 70, 90], [2007.42, 70, 90]];

// ---------------- CHIH ----------------
const chihAvg: Pt[] = [[1993.30,88.7],[1993.37,82.2],[1993.58,76.4],[1993.35,44.2],[1993.43,40.8],[1993.52,47.9],[1993.60,47.4],[1993.69,47.6],[1993.77,49.7],[1993.87,51.8],[1993.96,51.3],[1994.03,53.9],[1994.13,54.1],[1994.28,50.0],[1994.38,47.9],[1994.47,46.9],[1994.56,52.5],[1994.66,49.7],[1994.75,47.9],[1994.84,48.2],[1994.91,52.5],[1995.00,55.7],[1995.10,51.5],[1995.19,52.9],[1995.28,50.0],[1995.37,50.8],[1995.47,49.0],[1995.56,51.8],[1995.65,51.1],[1995.73,47.4],[1995.82,51.3],[1995.92,52.0],[1996.00,50.0],[1996.09,51.3],[1996.17,49.2],[1996.25,53.4],[1996.35,56.0],[1996.44,54.4],[1996.58,50.0],[1996.68,46.9],[1996.77,50.0],[1996.86,50.5],[1996.96,50.5],[1997.05,47.3],[1997.14,50.0],[1997.23,49.2],[1997.33,51.3],[1997.43,52.1],[1997.51,47.6],[1997.60,48.5],[1997.69,49.4],[1997.79,49.2],[1997.88,50.5],[1997.98,48.2],[1998.06,48.2],[1998.16,51.1],[1998.25,47.6],[1998.34,52.5],[1998.43,50.5],[1998.52,50.5],[1998.62,49.4],[1998.71,50.5],[1998.78,52.9],[1998.88,49.4],[1998.98,51.1],[1999.07,51.1],[1999.18,54.4],[1999.28,49.0],[1999.38,52.1],[1999.47,53.6],[1999.55,54.4],[1999.63,58.4],[1999.72,56.3],[1999.88,54.4],[1999.97,55.7],[2000.07,52.1],[2000.16,56.0],[2000.24,52.1],[2000.92,51.1],[2001.01,53.6],[2001.10,55.0],[2001.20,54.6],[2001.31,51.3],[2001.38,50.2],[2001.47,50.0],[2001.56,50.5],[2001.63,56.3],[2001.72,56.5],[2001.81,51.3],[2001.90,53.4],[2001.98,55.0],[2002.05,55.5],[2002.14,56.3],[2002.23,53.4],[2002.31,55.0],[2002.40,53.4],[2002.48,53.6],[2002.56,50.2],[2002.64,56.0],[2002.72,55.5],[2002.81,53.9],[2002.89,56.7],[2002.97,56.3],[2003.04,59.5],[2003.12,59.5],[2003.20,61.8],[2003.29,62.0],[2003.37,62.3],[2003.45,62.3],[2003.53,62.0],[2003.62,60.2],[2003.69,59.5],[2003.77,58.6],[2003.85,56.7],[2003.94,58.6],[2004.01,58.6],[2004.10,58.6],[2004.19,59.7],[2004.26,59.7],[2004.33,59.7],[2004.40,60.2],[2004.49,59.5],[2004.58,59.9],[2004.66,59.7],[2004.74,58.4],[2004.82,59.5],[2004.91,60.9],[2004.99,59.5],[2005.07,60.2],[2005.15,59.7],[2005.24,59.2],[2005.32,60.2],[2005.40,60.9],[2005.49,59.2],[2005.57,61.8],[2005.65,59.7],[2005.73,57.6],[2005.81,58.6],[2005.90,59.2],[2005.98,59.5],[2006.06,59.2],[2006.15,58.8],[2006.22,58.8],[2006.31,58.8],[2006.40,58.6],[2006.47,57.8],[2006.54,56.7],[2006.62,56.3],[2006.71,57.0],[2006.79,58.4],[2006.88,58.8],[2006.97,58.6],[2007.04,58.8],[2007.12,59.9],[2007.21,59.5],[2007.29,59.7],[2007.37,60.2],[2007.46,60.7],[2007.54,61.2],[2007.60,62.0],[2007.71,59.2],[2007.80,59.9],[2007.88,59.5],[2007.97,59.5],[2008.05,59.9],[2008.13,60.7],[2008.22,60.7],[2008.29,60.2],[2008.34,61.5],[2008.41,60.7]];
const chihSparse: Pt[] = [[1993.3,46],[1993.33,70],[1993.35,40],[1993.38,60],[1993.45,52],[1993.55,43],[1993.65,50],[1993.75,55],[1993.85,47],[1993.95,54],[1994.05,49],[1994.15,57],[1994.3,46],[1994.4,52],[1994.5,44],[1994.6,50],[1994.7,54],[1994.8,45],[1994.9,51],[1995.0,58],[1995.1,48],[1995.2,53],[1995.3,46],[1995.4,52],[1995.5,44],[1995.6,55],[1995.7,49],[1995.8,53],[1995.9,47],[1996.0,52],[1996.1,45],[1996.2,55],[1996.3,50],[1996.4,58],[1996.5,47],[1996.6,52],[1996.7,44],[1996.8,53],[1996.9,48],[1997.0,54],[1997.1,46],[1997.2,52],[1997.3,49],[1997.4,55],[1997.5,45],[1997.6,51],[1997.7,53],[1997.8,47],[1997.9,52],[1998.0,45],[1998.1,54],[1998.2,49],[1998.3,56],[1998.4,47],[1998.5,53],[1998.6,46],[1998.7,52],[1998.8,48],[1998.9,55],[1999.0,50],[1999.1,47],[1999.2,56],[1999.3,51],[1999.4,45],[1999.5,57],[1999.6,53],[1999.7,59],[1999.8,51],[1999.9,56],[2000.0,49],[2000.1,54],[2000.2,50],[2000.3,55],[2000.4,45],[2000.5,49],[2000.6,47],[2000.7,52],[2000.8,48],[2000.9,55],[2001.0,51],[2001.1,57],[2001.2,52],[2001.3,48],
  [1993.5,48],[1993.8,50],[1994.0,52],[1994.25,51],[1994.55,50],[1994.85,49],[1995.15,52],[1995.45,50],[1995.75,50],[1996.05,51],[1996.35,54],[1996.65,50],[1996.95,50],[1997.25,50],[1997.55,50],[1997.85,50],[1998.15,50],[1998.45,51],[1998.75,51],[1999.05,52],[1999.35,52],[1999.65,56],[1999.95,54],[2000.25,53],[2000.55,51],[2000.85,52],[2001.15,54]];
const chihDense: (number | null)[] = [
  47, 55, 50, 44, 53, 58, 51, 60, 54, 48, 57, 52, 46, 55, 50, 58,
  53, 59, 50, 56, 48, 57, 54, 61, 51, 55, 47, 58, 53, 49, 56, 44, 52, 59, 54, 50, 61, 55, 52, 58, 60,
  56, 63, 59, 66, 60, 55, 64, 62, 68, 58, 63, 57, 65, 61, 54, 62, 59, 64, 56, 61, 58, 65, 53, 60, 63,
  57, 62, 55, 60, 64, 58, 53, 61, 66, 59, 56, 63, 60, 54, 62, 58, 65, 57, 61, 55, 63, 59, 52, 61, 64,
  58, 62, 55, 60, 65, 57, 61, 53, 63, 59, 56, 64, 60, 54, 62, 58, 66, 57, 52, 60, 63, 55, 61, 58, 64,
  59, 55, 62, 57, 60, 64, 53, 58, 61, 56, 63, 52, 57, 54, 59, 51, 58, 61, 55, 60, 57, 63, 59, 54, 62,
  58, 61, 55, 63, 59, 56, 64, 60, 57, 62, 54, 61, 65, 58, 60, 63, 56, 66, 59, 62, 55, 60, 64, 57, 61,
  59, 63, 56, 61, 65, 58, 62, 55, 60, 64, 57, 62];
const chihDenseB: (number | null)[] = [
  52, 48, 56, 50, 59, 54, 48, 56, 51, 58, 53, 49, 57, 52, 55, 50,
  57, 51, 54, 60, 52, 58, 53, 50, 57, 54, 59, 52, 56, 51, 58, 48, 55, 53, 57, 60, 52, 58, 55, 61, 57,
  60, 57, 64, 61, 58, 65, 60, 63, 57, 62, 66, 59, 62, 58, 64, 60, 57, 62, 59, 63, 56, 61, 59, 64, 58,
  61, 58, 63, 57, 62, 59, 64, 57, 60, 63, 58, 61, 56, 63, 59, 61, 57, 62, 60, 64, 58, 61, 57, 63, 60,
  61, 57, 63, 59, 56, 62, 60, 64, 58, 61, 63, 57, 62, 59, 64, 60, 57, 62, 61, 58, 64, 59, 57, 62, 60,
  57, 62, 59, 63, 58, 61, 56, 62, 59, 57, 60, 55, 59, 57, 53, 58, 55, 60, 57, 62, 59, 56, 61, 58, 60,
  61, 57, 62, 59, 60, 57, 62, 58, 63, 60, 58, 62, 59, 64, 61, 58, 63, 60, 57, 62, 59, 64, 60, 58, 62,
  61, 58, 64, 60, 57, 62, 59, 63, 61, 58, 62, 60];
const chihTrend: Pt[][] = [[[1993, 48.7], [2003, 54.8]], [[2003, 59.7], [2008.48, 59.5]]];
const chihOffsets: [number, number, number][] = [[1994.24, 45, 63], [1996.55, 45, 65], [1999.56, 45, 65], [2002.94, 48, 65]];

// ---------------- CHET ----------------
const chetAvg: Pt[] = [[1993.32,13.1],[1993.45,0.6],[1993.53,-3.3],[1993.63,1.3],[1993.70,1.1],[1993.79,10.5],[1994.14,12.9],[1994.23,3.2],[1994.35,18.6],[1994.44,10.5],[1994.54,21.5],[1994.65,16.2],[1994.84,18.3],[1995.02,15.9],[1995.18,5.8],[1995.30,20.4],[1995.47,13.6],[1995.65,19.9],[1995.75,21.5],[1995.83,18.3],[1995.96,13.6],[1996.09,22.5],[1996.17,19.4],[1996.28,17.0],[1996.44,19.4],[1996.53,20.9],[1996.63,16.2],[1996.72,17.0],[1996.82,17.3],[1996.93,17.0],[1997.08,20.7],[1997.27,21.8],[1997.38,19.4],[1997.54,23.0],[1997.69,23.6],[1997.84,21.2],[1997.92,21.5],[1998.03,21.5],[1998.14,21.5],[1998.31,21.8],[1998.41,20.7],[1998.51,22.0],[1998.68,24.6],[1998.82,23.0],[1998.90,15.2],[1998.98,15.2],[1999.25,29.3],[1999.36,23.0],[1999.45,15.7],[1999.49,21.2],[1999.64,24.6],[1999.72,22.2],[1999.83,21.2],[1999.93,27.2],[2000.03,22.8],[2000.11,32.5],[2000.21,28.1],[2000.29,31.4],[2000.39,32.5],[2000.49,35.4],[2000.58,39.3],[2000.78,47.9],[2000.90,33.5],[2001.00,27.2],[2001.10,30.6],[2001.20,33.5],[2001.32,34.0],[2001.45,31.6],[2001.54,30.4],[2001.62,30.6],[2001.70,33.0],[2001.78,26.0],[2001.86,26.7],[2001.95,31.6],[2002.03,34.6],[2002.11,36.4],[2002.19,36.4],[2002.28,36.4],[2002.36,32.7],[2002.45,33.3],[2002.53,33.7],[2002.61,30.6],[2002.69,30.9],[2002.78,29.8],[2002.86,29.8],[2002.99,33.0],[2003.07,33.5],[2003.15,34.0],[2003.22,34.6],[2003.30,35.4],[2003.38,35.6],[2003.47,35.6],[2003.55,35.6],[2003.63,35.8],[2003.72,36.1],[2003.80,36.4],[2003.88,35.8],[2003.97,36.4],[2004.05,37.2],[2004.13,37.7],[2004.21,37.7],[2004.30,37.7],[2004.41,39.0],[2004.49,39.0],[2004.58,39.3],[2004.66,39.3],[2004.74,39.6],[2004.82,40.0],[2004.91,39.6],[2005.02,41.7],[2005.11,43.4],[2005.18,41.7],[2005.26,41.7],[2005.34,42.9],[2005.43,40.6],[2005.50,41.9],[2005.59,41.0],[2005.67,42.9],[2005.75,41.0],[2005.83,41.0],[2005.91,40.6],[2006.00,39.3],[2006.08,40.3],[2006.16,40.3],[2006.25,42.4],[2006.32,44.5],[2006.41,43.1],[2006.48,42.4],[2006.57,42.1],[2006.66,42.1],[2006.74,41.4],[2006.82,41.4],[2006.91,41.9],[2006.99,41.7],[2007.06,41.4],[2007.15,41.0],[2007.24,41.4],[2007.31,41.9],[2007.39,42.7],[2007.46,43.4],[2007.55,40.8],[2007.62,41.0],[2007.70,41.0],[2007.78,39.8],[2007.87,39.3],[2007.95,40.0],[2008.03,40.3],[2008.11,40.0],[2008.20,42.7],[2008.28,42.9],[2008.35,41.0],[2008.40,44.0]];
const chetSparse: Pt[] = [[1993.32,21],[1993.36,4],[1993.4,-10],[1993.45,-3],[1993.5,5],[1993.55,-7],[1993.6,-11],[1993.65,-6],[1993.7,3],[1993.75,19],[1993.8,13],[1993.88,-1],[1994.0,7],[1994.12,16],[1994.2,-11],[1994.3,11],[1994.38,22],[1994.45,-9],[1994.55,17],[1994.62,26],[1994.7,9],[1994.78,14],[1994.85,21],[1994.95,11],[1995.05,23],[1995.15,13],[1995.22,-9],[1995.3,16],[1995.4,24],[1995.48,9],[1995.58,16],[1995.7,26],[1995.8,12],[1995.9,22],[1996.0,8],[1996.05,19],[1996.15,14],[1996.25,25],[1996.35,12],[1996.45,22],[1996.55,14],[1996.65,27],[1996.75,13],[1996.85,20],[1996.95,11],[1997.05,24],[1997.15,16],[1997.2,35],[1997.3,22],[1997.4,17],[1997.45,28],[1997.55,19],[1997.62,30],[1997.7,20],[1997.78,14],[1997.85,25],[1997.95,18],[1998.05,27],[1998.12,15],[1998.2,24],[1998.3,19],[1998.38,33],[1998.45,22],[1998.55,29],[1998.62,18],[1998.72,31],[1998.8,23],[1998.9,12],[1999.0,20],[1999.08,27],[1999.15,17],[1999.25,24],[1999.32,34],[1999.4,20],[1999.48,14],[1999.55,26],[1999.62,20],[1999.7,30],[1999.8,22],[1999.88,17],[1999.95,28],[2000.05,24],[2000.12,36],[2000.2,27],[2000.28,33],[2000.35,39],[2000.42,28],[2000.5,41],[2000.55,36],[2000.62,43],[2000.7,34],[2000.75,45],[2000.82,38],[2000.88,29],[2000.95,36],[2001.0,24],[2001.05,32],[2001.12,27],[2001.18,37],[2001.25,30],[2001.3,40],
  [1993.38,8],[1993.48,2],[1993.58,0],[1993.68,-1],[1993.78,8],[1994.08,13],[1994.18,6],[1994.28,15],[1994.4,14],[1994.5,18],[1994.6,19],[1994.75,17],[1994.9,16],[1995.0,18],[1995.1,17],[1995.25,14],[1995.35,17],[1995.45,18],[1995.55,13],[1995.62,18],[1995.78,20],[1995.88,15],[1996.02,17],[1996.12,20],[1996.2,18],[1996.3,19],[1996.4,17],[1996.5,20],[1996.6,19],[1996.7,15],[1996.8,18],[1996.9,19],[1997.0,18],[1997.1,19],[1997.25,20],[1997.35,22],[1997.5,21],[1997.6,22],[1997.75,21],[1997.9,22],[1998.0,20],[1998.1,22],[1998.25,22],[1998.35,23],[1998.5,21],[1998.6,24],[1998.75,24],[1998.85,21],[1999.1,23],[1999.2,27],[1999.3,25],[1999.45,22],[1999.6,23],[1999.75,24],[1999.85,26],[2000.0,25],[2000.08,29],[2000.18,30],[2000.25,29],[2000.32,31],[2000.45,33],[2000.52,34],[2000.65,37],[2000.72,40],[2000.85,35],[2000.92,31],[2001.03,28],[2001.08,29],[2001.15,32],[2001.22,33],[2001.28,35]];
const chetDense: (number | null)[] = [
  27, 38, 31, 24, 36, 29, 41, 33, 22, 30, 19, 27, 35, 25, 38, 31,
  39, 30, 43, 35, 28, 40, 33, 46, 37, 29, 41, 34, 25, 38, 31, 43, 28, 36, 24, 33, 39, 27, 35, 22, 31,
  37, 28, 42, 34, 26, 39, 31, 44, 36, 29, 40, 33, 45, 30, 38, 27, 41, 35, 47, 32, 39, 28, 43, 36, 31,
  42, 33, 38, 46, 30, 40, 35, 48, 37, 43, 29, 39, 45, 34, 41, 31, 47, 38, 33, 44, 36, 49, 40, 32, 43,
  38, 46, 34, 43, 50, 37, 41, 33, 47, 40, 35, 45, 52, 39, 44, 32, 42, 48, 36, 41, 46, 34, 43, 38, 49,
  40, 45, 35, 48, 42, 37, 51, 44, 33, 46, 40, 38, 49, 43, 36, 47, 41, 32, 45, 50, 39, 44, 37, 42, 48,
  35, 44, 40, 47, 38, 51, 42, 36, 46, 33, 43, 49, 39, 45, 37, 52, 41, 34, 44, 48, 38, 43, 31, 46, 40,
  45, 37, 49, 42, 35, 47, 40, 51, 43, 38, 46, 50];
const chetDenseB: (number | null)[] = [
  33, 26, 37, 30, 40, 34, 28, 36, 30, 25, 33, 28, 31, 37, 29, 34,
  34, 41, 37, 31, 44, 38, 35, 41, 32, 38, 35, 30, 40, 36, 33, 38, 30, 35, 31, 37, 28, 34, 30, 36, 33,
  33, 39, 35, 30, 37, 41, 34, 38, 33, 42, 36, 31, 38, 35, 41, 33, 38, 43, 35, 39, 34, 40, 37, 33, 39,
  36, 41, 35, 39, 43, 37, 41, 34, 40, 38, 44, 36, 41, 38, 35, 43, 39, 41, 37, 45, 40, 36, 42, 38, 41,
  43, 39, 45, 41, 37, 44, 40, 47, 42, 38, 43, 40, 46, 41, 38, 44, 40, 45, 39, 43, 41, 37, 44, 40, 42,
  38, 43, 40, 37, 44, 40, 46, 42, 47, 41, 45, 43, 39, 44, 41, 46, 42, 39, 44, 41, 38, 43, 40, 45, 41,
  43, 39, 44, 41, 37, 43, 40, 45, 41, 38, 44, 41, 46, 42, 39, 44, 40, 37, 42, 39, 43, 36, 41, 39, 42,
  40, 44, 38, 42, 46, 41, 39, 44, 42, 47, 41, 45];
const chetTrend: Pt[][] = [[[1993, 10.2], [2003, 34.0]], [[2003, 36.1], [2008.48, 43.4]]];
const chetOffsets: [number, number, number][] = [[1999.56, 20, 45], [2002.94, 20, 40]];

// ---------------- CAMP ----------------
const campAvg: Pt[] = [[1995.65,-9.9],[1995.74,-11.0],[1995.83,-14.1],[1995.93,-17.6],[1996.02,-17.8],[1996.12,-17.8],[1996.21,-17.8],[1996.31,-18.3],[1996.41,-15.5],[1996.51,-15.1],[1996.59,-10.6],[1996.93,-19.0],[1997.01,-17.2],[1997.10,-15.7],[1997.20,-14.6],[1997.29,-14.1],[1997.48,-8.1],[1997.60,-13.1],[1997.69,-7.3],[1997.80,-7.1],[1997.90,-6.5],[1997.99,-7.1],[1998.18,-12.3],[1998.24,-3.3],[1998.36,-3.3],[1998.43,-3.9],[1998.51,-7.5],[1998.61,-11.3],[1998.71,-14.6],[1998.81,-14.4],[1998.90,-14.1],[1998.99,-10.6],[1999.09,-11.3],[1999.19,-6.0],[1999.28,-7.8],[1999.37,-2.1],[1999.55,-4.4],[1999.66,-2.9],[1999.75,-2.6],[1999.83,1.1],[1999.95,-1.2],[2000.10,-7.1],[2000.19,-0.2],[2000.31,-0.2],[2000.50,0.2],[2000.57,0.2],[2000.66,3.2],[2000.76,4.0],[2000.86,2.1],[2000.94,1.6],[2001.05,1.1],[2001.22,6.1],[2001.32,3.4],[2001.41,3.4],[2001.49,9.6],[2001.58,8.2],[2001.68,9.6],[2001.77,7.9],[2001.94,6.5],[2002.05,9.4],[2002.15,11.5],[2002.25,11.5],[2002.34,11.5],[2002.43,12.6],[2002.51,11.5],[2002.61,14.5],[2003.00,15.5],[2003.10,15.2],[2003.19,15.7],[2003.31,16.6],[2003.38,15.7],[2003.47,14.9],[2003.55,16.2],[2003.65,14.9],[2003.73,15.7],[2003.82,16.6],[2003.90,17.0],[2003.99,17.0],[2004.08,17.0],[2004.18,16.6],[2004.28,15.7],[2004.37,15.7],[2004.46,16.6],[2004.56,16.6],[2004.66,17.0],[2004.76,17.5],[2004.88,18.3],[2004.96,18.9],[2005.05,19.4],[2005.20,18.9],[2005.35,20.4],[2005.43,21.0],[2005.60,21.2],[2005.70,20.2],[2005.78,19.4],[2005.92,20.4],[2006.02,20.0],[2006.10,19.9],[2006.27,18.9],[2006.35,19.4],[2006.42,19.9],[2006.52,20.1],[2006.62,20.4],[2006.73,22.5],[2006.82,22.2],[2006.92,21.8],[2007.00,22.0],[2007.06,22.5],[2007.14,20.2],[2007.21,18.3],[2007.29,17.8],[2007.40,19.4],[2007.51,20.7],[2007.60,21.5],[2007.68,21.5],[2007.76,21.8],[2007.84,21.2],[2007.91,21.2],[2008.00,21.5],[2008.06,21.0],[2008.13,18.9],[2008.23,19.1],[2008.33,20.7],[2008.41,20.7]];
const campSparse: Pt[] = [[1995.6,-9],[1995.7,-7],[1995.75,-13],[1995.8,-11],[1995.9,-16],[1995.95,-20],[1996.0,-14],[1996.05,-21],[1996.1,-16],[1996.2,-19],[1996.25,-14],[1996.3,-22],[1996.4,-17],[1996.45,-12],[1996.5,-19],[1996.6,-9],[1996.65,-15],[1996.85,-22],[1996.9,-16],[1996.95,-21],[1997.05,-13],[1997.1,-19],[1997.15,-11],[1997.25,-17],[1997.3,-10],[1997.4,-14],[1997.45,-5],[1997.55,-10],[1997.65,-4],[1997.7,-11],[1997.75,-2],[1997.85,-9],[1997.92,-3],[1998.0,-10],[1998.08,-15],[1998.15,-6],[1998.22,0],[1998.3,-7],[1998.38,1],[1998.45,-6],[1998.52,-12],[1998.6,-8],[1998.65,-17],[1998.75,-11],[1998.82,-18],[1998.9,-12],[1999.0,-8],[1999.05,-15],[1999.15,-4],[1999.22,-10],[1999.3,-1],[1999.38,-6],[1999.45,1],[1999.52,-8],[1999.6,0],[1999.68,-6],[1999.75,2],[1999.85,-4],[1999.92,4],[2000.0,-3],[2000.08,-9],[2000.15,2],[2000.22,-5],[2000.3,3],[2000.4,-2],[2000.48,5],[2000.55,-1],[2000.62,6],[2000.7,0],[2000.78,7],[2000.85,-1],[2000.92,4],[2001.0,-2],[2001.08,7],[2001.15,2],[2001.22,9],[2001.3,1],
  [1995.85,-13],[1996.0,-18],[1996.15,-16],[1996.35,-18],[1996.55,-13],[1996.95,-18],[1997.2,-15],[1997.5,-9],[1997.8,-7],[1998.05,-8],[1998.3,-4],[1998.55,-9],[1998.85,-14],[1999.1,-10],[1999.35,-3],[1999.65,-3],[1999.9,-1],[2000.2,-1],[2000.45,0],[2000.7,3],[2000.95,2],[2001.2,5]];
const campDense: (number | null)[] = [
  5, -2, 9, 3, 12, 6, -1, 10, 4, 14, 7, 1, 11, 5, 15, 8,
  12, 4, 15, 9, 18, 6, 13, 2, 16, 10, 19, 7, 14, 11, 21, 8, 17, 12, 5, 15, 20, 10, 16, 22, 13,
  17, 11, 20, 14, 23, 16, 9, 19, 13, 22, 15, 18, 10, 21, 14, 17, 24, 12, 19, 16, 11, 20, 15, 22, 13,
  18, 12, 21, 15, 24, 17, 11, 20, 14, 19, 23, 16, 10, 22, 17, 13, 21, 18, 25, 15, 12, 20, 16, 23, 14,
  21, 15, 24, 18, 13, 22, 19, 26, 16, 20, 14, 23, 18, 25, 17, 21, 12, 24, 19, 16, 22, 27, 18, 15, 23,
  20, 25, 16, 22, 18, 27, 21, 14, 23, 19, 26, 17, 22, 24, 15, 20, 28, 18, 23, 16, 21, 25, 19, 13, 22,
  24, 17, 21, 26, 19, 23, 14, 22, 18, 25, 20, 16, 23, 27, 19, 21, 15, 24, 20, 26, 18, 22, 17, 25, 21,
  19, 24, 16, 22, 27, 18, 21, 14, 23, 20, 25, 17];
const campDenseB: (number | null)[] = [
  2, 8, 4, 10, 1, 7, 12, 5, 9, 3, 11, 8, 4, 13, 7, 10,
  8, 14, 10, 6, 13, 9, 16, 11, 7, 14, 12, 9, 17, 13, 10, 15, 12, 18, 14, 11, 16, 13, 19, 15, 12,
  14, 19, 16, 12, 18, 15, 21, 17, 13, 19, 16, 20, 14, 17, 19, 13, 16, 21, 15, 18, 14, 19, 17, 13, 18,
  15, 20, 17, 13, 19, 16, 21, 18, 14, 19, 16, 13, 20, 17, 22, 15, 18, 14, 19, 17, 21, 16, 18, 14, 20,
  18, 22, 16, 20, 17, 23, 19, 15, 21, 18, 24, 19, 16, 22, 20, 17, 23, 19, 21, 16, 20, 24, 18, 21, 19,
  22, 18, 21, 17, 23, 19, 16, 21, 18, 24, 20, 17, 22, 19, 25, 21, 18, 23, 20, 17, 22, 19, 24, 20, 18,
  21, 25, 19, 23, 18, 21, 17, 20, 16, 22, 19, 23, 20, 24, 21, 18, 23, 19, 25, 21, 18, 24, 20, 23, 19,
  22, 18, 24, 20, 17, 23, 21, 19, 24, 18, 22, 20];
const campTrend: Pt[][] = [[[1993, -32.1], [2002.95, 13.4]], [[2003, 15.7], [2008.48, 20.5]]];
const campOffsets: [number, number, number][] = [[1997.46, -3, 17], [1999.56, -3, 17]];

// ---------------- MDO1 ----------------
const mdo1Avg: Pt[] = [[1993.47,-26.7],[1993.57,-27.2],[1993.66,-25.3],[1993.74,-25.3],[1993.85,-26.7],[1993.95,-27.4],[1994.04,-26.1],[1994.16,-26.7],[1994.26,-26.7],[1994.35,-26.1],[1994.44,-26.7],[1994.54,-26.1],[1994.64,-25.3],[1994.73,-25.9],[1994.82,-25.6],[1994.92,-26.1],[1995.02,-25.9],[1995.11,-26.1],[1995.20,-25.9],[1995.30,-25.3],[1995.41,-26.3],[1995.50,-24.6],[1995.60,-24.2],[1995.70,-26.1],[1995.79,-25.3],[1995.88,-25.1],[1995.98,-24.9],[1996.08,-23.8],[1996.17,-24.0],[1996.28,-23.0],[1996.38,-24.0],[1996.47,-23.8],[1996.55,-24.0],[1996.64,-22.8],[1996.74,-21.9],[1996.84,-22.2],[1996.93,-22.2],[1997.04,-21.7],[1997.14,-21.4],[1997.23,-21.4],[1997.32,-22.2],[1997.42,-22.5],[1997.54,-22.5],[1997.61,-22.2],[1997.73,-22.5],[1997.84,-20.7],[1998.03,-24.2],[1998.11,-24.2],[1998.21,-23.8],[1998.30,-22.8],[1998.39,-23.0],[1998.49,-22.8],[1998.58,-22.2],[1998.68,-22.2],[1998.77,-22.2],[1998.87,-23.0],[1998.96,-23.2],[1999.07,-23.8],[1999.17,-23.0],[1999.27,-22.2],[1999.36,-23.0],[1999.46,-23.8],[1999.55,-22.5],[1999.66,-24.2],[1999.74,-24.9],[1999.85,-26.1],[1999.97,-27.0],[2000.06,-27.2],[2000.16,-23.0],[2000.26,-24.9],[2000.35,-25.1],[2000.46,-25.1],[2000.56,-24.0],[2000.65,-24.2],[2000.76,-24.0],[2000.86,-25.1],[2000.95,-25.9],[2001.07,-26.7],[2001.14,-27.7],[2001.24,-26.7],[2001.33,-23.8],[2001.39,-23.2],[2001.47,-21.4],[2001.55,-22.2],[2001.64,-22.2],[2001.71,-24.6],[2001.79,-24.9],[2001.88,-27.0],[2001.98,-26.3],[2002.08,-27.2],[2002.18,-26.1],[2002.28,-24.9],[2002.38,-20.4],[2002.47,-20.7],[2002.56,-18.3],[2002.64,-17.2],[2002.72,-16.9],[2002.79,-18.3],[2002.89,-21.4],[2003.00,-21.9],[2003.10,-21.4],[2003.19,-21.4],[2003.29,-21.4],[2003.38,-21.7],[2003.47,-22.5],[2003.57,-21.4],[2003.69,-20.9],[2003.78,-22.2],[2003.88,-21.9],[2003.98,-21.9],[2004.07,-21.9],[2004.18,-20.9],[2004.29,-22.5],[2004.39,-22.5],[2004.49,-22.5],[2004.58,-22.2],[2004.67,-22.5],[2004.73,-22.8],[2004.82,-25.4],[2004.90,-24.6],[2004.98,-24.6],[2005.06,-24.6],[2005.14,-23.0],[2005.22,-25.6],[2005.29,-25.1],[2005.38,-24.4],[2005.46,-24.6],[2005.55,-23.8],[2005.62,-22.8],[2005.70,-24.6],[2005.79,-24.6],[2005.87,-23.2],[2005.95,-26.1],[2006.03,-26.4],[2006.11,-24.0],[2006.19,-22.8],[2006.28,-24.4],[2006.36,-23.5],[2006.45,-24.4],[2006.52,-24.6],[2006.60,-22.5],[2006.69,-27.2],[2006.76,-24.6],[2006.84,-24.4],[2006.93,-24.4],[2007.01,-23.5],[2007.09,-24.4],[2007.18,-23.5],[2007.26,-24.4],[2007.34,-24.6],[2007.42,-24.6],[2007.50,-23.2],[2007.58,-23.2],[2007.66,-24.0],[2007.74,-24.9],[2007.83,-25.9],[2007.91,-25.1],[2007.99,-24.6],[2008.08,-24.0],[2008.16,-23.8],[2008.23,-24.6],[2008.32,-23.8],[2008.40,-24.0]];
const mdo1Trend: Pt[][] = [[[1993, -27.2], [2003, -18.2]], [[2003, -21.3], [2008.48, -24.6]]];

// kind: 'red' = open-circle daily cloud, 'blue' = grey daily cloud, 'green' = weekly only
const noDense: (number | null)[] = [];
const stations = [
  { name: 'TAMP', kind: 'red', avg: tampAvg, sparse: tampSparse, dense: [tampDense, tampDenseB], trend: tampTrend, offsets: tampOffsets, labelAt: 179.5 },
  { name: 'MERI', kind: 'blue', avg: meriAvg, sparse: meriSparse, dense: [meriDense, meriDenseB], trend: meriTrend, offsets: meriOffsets, labelAt: 154 },
  { name: 'HERM', kind: 'red', avg: hermAvg, sparse: hermSparse, dense: [hermDense, hermDenseB], trend: hermTrend, offsets: hermOffsets, labelAt: 128 },
  { name: 'FMTY', kind: 'blue', avg: fmtyAvg, sparse: fmtySparse, dense: [fmtyDense, fmtyDenseB], trend: fmtyTrend, offsets: fmtyOffsets, labelAt: 104 },
  { name: 'CULI', kind: 'red', avg: culiAvg, sparse: culiSparse, dense: [culiDense, culiDenseB], trend: culiTrend, offsets: culiOffsets, labelAt: 79 },
  { name: 'CHIH', kind: 'blue', avg: chihAvg, sparse: chihSparse, dense: [chihDense, chihDenseB], trend: chihTrend, offsets: chihOffsets, labelAt: 54 },
  { name: 'CHET', kind: 'red', avg: chetAvg, sparse: chetSparse, dense: [chetDense, chetDenseB], trend: chetTrend, offsets: chetOffsets, labelAt: 29 },
  { name: 'CAMP', kind: 'blue', avg: campAvg, sparse: campSparse, dense: [campDense, campDenseB], trend: campTrend, offsets: campOffsets, labelAt: 4.5 },
  { name: 'MDO1', kind: 'green', avg: mdo1Avg, sparse: [] as Pt[], dense: [noDense, noDense], trend: mdo1Trend, offsets: [] as [number, number, number][], labelAt: -25.5 },
];

const RED = '#cc1f1f';
const BLUE = '#2a16f2';
const colors: Record<string, { dot: string; line: string; text: string; cloud: string }> = {
  red: { dot: '#cc2020', line: '#2626ff', text: RED, cloud: 'open' },
  blue: { dot: '#2b22f0', line: '#e02626', text: BLUE, cloud: 'grey' },
  green: { dot: '#86e83c', line: '#222', text: '#000', cloud: 'none' },
};

const serif = '"Liberation Serif", "Times New Roman", serif';
const sans = '"Liberation Sans", Arial, sans-serif';

const App = () => {
  const ref = useRef<SVGSVGElement>(null);

  useEffect(() => {
    document.body.style.margin = '0';
    const svg = d3.select(ref.current);
    svg.selectAll('*').remove();

    const x = d3.scaleLinear().domain([1993, 2008.48]).range([91, 1129.5]);
    const y = d3.scaleLinear().domain([-30, 205]).range([799, 50]);
    const [xl, xr] = x.range();
    const [yb, yt] = y.range();

    svg.append('rect').attr('width', 1193).attr('height', 833).attr('fill', '#fff');

    svg.append('defs').append('clipPath').attr('id', 'plotClip')
      .append('rect').attr('x', xl).attr('y', yt).attr('width', xr - xl).attr('height', yb - yt);

    const plot = svg.append('g').attr('clip-path', 'url(#plotClip)');

    // daily clouds
    stations.forEach(s => {
      const c = colors[s.kind];
      if (c.cloud === 'none') return;
      const pts: Pt[] = s.sparse.slice();
      s.dense.forEach((arr, k) => {
        arr.forEach((v, i) => {
          if (v !== null) pts.push([denseStart + i * denseStep + k * denseStep / 2, v]);
        });
      });
      plot.append('g').selectAll('circle').data(pts).join('circle')
        .attr('cx', d => x(d[0])).attr('cy', d => y(d[1]))
        .attr('r', c.cloud === 'open' ? 3.8 : 4)
        .attr('fill', c.cloud === 'open' ? '#fff' : '#a4a4a4')
        .attr('stroke', c.cloud === 'open' ? '#111' : 'none')
        .attr('stroke-width', 0.9);
    });

    // trend lines
    const line = d3.line<Pt>().x(d => x(d[0])).y(d => y(d[1]));
    stations.forEach(s => {
      s.trend.forEach(seg => {
        plot.append('path').attr('d', line(seg)).attr('fill', 'none')
          .attr('stroke', colors[s.kind].line).attr('stroke-width', 1.1);
      });
    });

    // offsets (dashed)
    stations.forEach(s => {
      s.offsets.forEach(o => {
        plot.append('line').attr('x1', x(o[0])).attr('x2', x(o[0]))
          .attr('y1', y(o[2])).attr('y2', y(o[1]))
          .attr('stroke', s.kind === 'red' ? RED : BLUE).attr('stroke-width', 2.6)
          .attr('stroke-dasharray', '14,7');
      });
    });

    // averages
    stations.forEach(s => {
      plot.append('g').selectAll('circle').data(s.avg).join('circle')
        .attr('cx', d => x(d[0])).attr('cy', d => y(d[1])).attr('r', 5.5)
        .attr('fill', colors[s.kind].dot).attr('stroke', '#000').attr('stroke-width', 1);
    });

    // frame
    svg.append('rect').attr('x', xl).attr('y', yt).attr('width', xr - xl).attr('height', yb - yt)
      .attr('fill', 'none').attr('stroke', '#000').attr('stroke-width', 1.3);

    const minorY = d3.range(-30, 206, 5);
    const quarters = d3.range(1993, 2008.49, 0.25);
    const styleAxis = (g: any) => {
      g.select('.domain').remove();
      g.selectAll('line').attr('stroke', '#000').attr('stroke-width', 1.2);
    };

    // left
    svg.append('g').attr('transform', `translate(${xl},0)`)
      .call(d3.axisLeft(y).tickValues(minorY).tickSize(6).tickFormat(() => '')).call(styleAxis);
    const gl = svg.append('g').attr('transform', `translate(${xl},0)`)
      .call(d3.axisLeft(y).tickValues(valueTicks).tickSize(10).tickPadding(3).tickFormat(d => String(d))).call(styleAxis);
    gl.selectAll('text').attr('font-family', serif).attr('font-style', 'italic').attr('font-size', 16).attr('fill', '#000');

    // right
    svg.append('g').attr('transform', `translate(${xr},0)`)
      .call(d3.axisRight(y).tickValues(minorY).tickSize(6).tickFormat(() => '')).call(styleAxis);
    svg.append('g').attr('transform', `translate(${xr},0)`)
      .call(d3.axisRight(y).tickValues(valueTicks).tickSize(9).tickFormat(() => '')).call(styleAxis);

    // top
    svg.append('g').attr('transform', `translate(0,${yt})`)
      .call(d3.axisTop(x).tickValues(quarters).tickSize(5).tickFormat(() => '')).call(styleAxis);
    svg.append('g').attr('transform', `translate(0,${yt})`)
      .call(d3.axisTop(x).tickValues(years).tickSize(10).tickFormat(() => '')).call(styleAxis);

    // bottom
    svg.append('g').attr('transform', `translate(0,${yb})`)
      .call(d3.axisBottom(x).tickValues(quarters).tickSize(5).tickFormat(() => '')).call(styleAxis);
    svg.append('g').attr('transform', `translate(0,${yb})`)
      .call(d3.axisBottom(x).tickValues(years).tickSize(10).tickFormat(() => '')).call(styleAxis);
    svg.append('g').selectAll('text').data(years).join('text')
      .attr('x', d => x(d)).attr('y', 831).attr('text-anchor', 'middle')
      .attr('font-family', serif).attr('font-style', 'italic').attr('font-size', 16)
      .text(d => String(d));

    // y title
    svg.append('text').attr('transform', `translate(20,${(yt + yb) / 2}) rotate(-90)`)
      .attr('text-anchor', 'middle').attr('font-family', serif).attr('font-weight', 'bold')
      .attr('font-size', 20).text('East movement (mm)');

    // station labels
    svg.append('g').selectAll('text').data(stations).join('text')
      .attr('x', xr + 8).attr('y', d => y(d.labelAt)).attr('dy', '0.36em')
      .attr('font-family', sans).attr('font-weight', 'bold').attr('font-size', 18)
      .attr('fill', d => colors[d.kind].text).text(d => d.name);

    // receiver period arrows
    const ay = 35;
    const split = x(2003);
    svg.append('line').attr('x1', xl).attr('x2', split - 14).attr('y1', ay).attr('y2', ay)
      .attr('stroke', BLUE).attr('stroke-width', 5);
    svg.append('path').attr('d', `M${split - 16},${ay - 12}L${split},${ay}L${split - 16},${ay + 12}Z`).attr('fill', BLUE);
    svg.append('line').attr('x1', split).attr('x2', xr - 16).attr('y1', ay).attr('y2', ay)
      .attr('stroke', RED).attr('stroke-width', 5);
    svg.append('path').attr('d', `M${xr - 18},${ay - 12}L${xr - 1},${ay}L${xr - 18},${ay + 12}Z`).attr('fill', RED);
    svg.append('text').attr('x', 425).attr('y', 27).attr('text-anchor', 'middle')
      .attr('font-family', sans).attr('font-weight', 'bold').attr('font-size', 19).attr('fill', BLUE)
      .text('Ashtech C/A-code + phase');
    svg.append('text').attr('x', 940).attr('y', 27).attr('text-anchor', 'middle')
      .attr('font-family', sans).attr('font-weight', 'bold').attr('font-size', 19).attr('fill', RED)
      .text('Trimble P-code + phase');
  }, []);

  return <svg ref={ref} width={1193} height={833} style={{ display: 'block' }} />;
};

export default App;
